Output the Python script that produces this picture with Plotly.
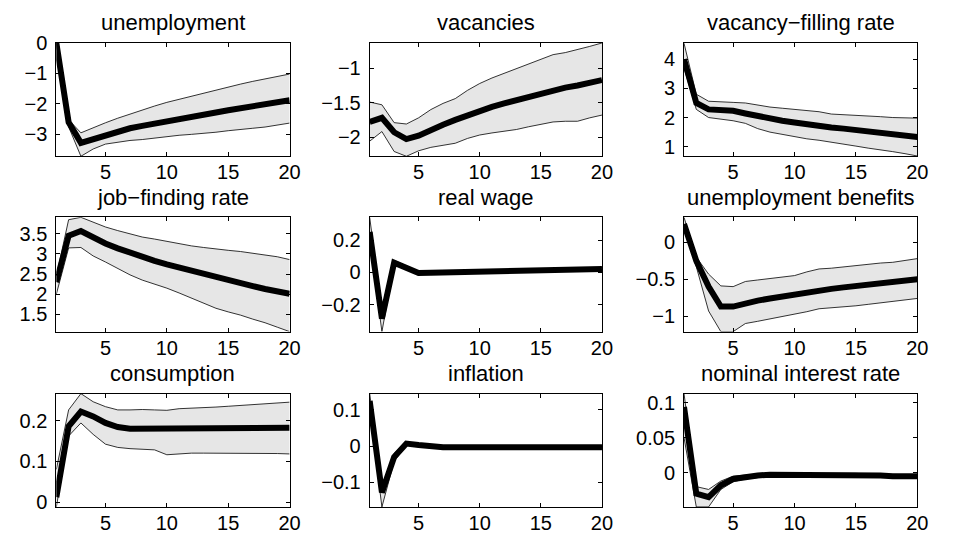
import plotly.graph_objects as go

x = list(range(1, 21))

titles = ["unemployment", "vacancies", "vacancy\u2212filling rate",
          "job\u2212finding rate", "real wage", "unemployment benefits",
          "consumption", "inflation", "nominal interest rate"]

# medians / upper / lower bands
unemp_med = [0, -2.6, -3.28, -3.15, -3.02, -2.9, -2.8, -2.72, -2.64, -2.56, -2.49, -2.42, -2.35, -2.28, -2.21, -2.15, -2.09, -2.03, -1.95, -1.88]
unemp_up = [0, -2.52, -2.95, -2.78, -2.62, -2.47, -2.33, -2.2, -2.07, -1.95, -1.85, -1.74, -1.63, -1.53, -1.43, -1.35, -1.26, -1.18, -1.1, -1.02]
unemp_lo = [0, -2.75, -3.72, -3.48, -3.32, -3.26, -3.2, -3.17, -3.12, -3.07, -3.03, -3.0, -2.97, -2.93, -2.88, -2.83, -2.8, -2.76, -2.7, -2.63]

vac_med = [-1.78, -1.72, -1.93, -2.03, -1.98, -1.89, -1.82, -1.75, -1.68, -1.61, -1.56, -1.51, -1.46, -1.41, -1.37, -1.32, -1.28, -1.25, -1.21, -1.17]
vac_up = [-1.49, -1.53, -1.79, -1.81, -1.72, -1.6, -1.51, -1.44, -1.32, -1.22, -1.14, -1.07, -1.0, -0.93, -0.86, -0.8, -0.77, -0.73, -0.68, -0.63]
vac_lo = [-2.06, -1.92, -2.21, -2.28, -2.2, -2.15, -2.12, -2.09, -2.02, -1.97, -1.94, -1.92, -1.89, -1.85, -1.81, -1.78, -1.77, -1.77, -1.72, -1.68]

vfr_med = [4.0, 2.5, 2.28, 2.27, 2.23, 2.14, 2.04, 1.95, 1.89, 1.83, 1.76, 1.7, 1.66, 1.62, 1.57, 1.52, 1.48, 1.44, 1.38, 1.33]
vfr_up = [4.55, 2.8, 2.56, 2.55, 2.52, 2.5, 2.42, 2.36, 2.32, 2.28, 2.24, 2.2, 2.12, 2.1, 2.09, 2.06, 2.03, 2.0, 1.99, 1.98]
vfr_lo = [3.7, 2.28, 2.0, 1.95, 1.89, 1.8, 1.62, 1.5, 1.42, 1.36, 1.27, 1.22, 1.16, 1.1, 1.02, 0.95, 0.9, 0.83, 0.76, 0.68]

jfr_med = [2.3, 3.45, 3.57, 3.4, 3.26, 3.14, 3.03, 2.93, 2.83, 2.74, 2.66, 2.57, 2.49, 2.42, 2.35, 2.28, 2.2, 2.13, 2.07, 2.01]
jfr_up = [2.45, 3.85, 3.91, 3.79, 3.67, 3.58, 3.5, 3.42, 3.37, 3.31, 3.26, 3.2, 3.16, 3.12, 3.09, 3.06, 3.02, 2.98, 2.93, 2.86]
jfr_lo = [2.0, 3.15, 3.16, 2.95, 2.8, 2.64, 2.48, 2.35, 2.25, 2.15, 2.03, 1.9, 1.78, 1.65, 1.56, 1.48, 1.38, 1.29, 1.18, 1.07]

rw_med = [0.25, -0.285, 0.06, 0.03, -0.003, -0.002, 0.0, 0.002, 0.004, 0.007, 0.009, 0.011, 0.013, 0.015, 0.016, 0.018, 0.02, 0.021, 0.022, 0.022]
rw_up = [0.34, -0.24, 0.075, 0.04, 0.006, 0.006, 0.008, 0.01, 0.012, 0.015, 0.017, 0.019, 0.021, 0.023, 0.024, 0.026, 0.028, 0.029, 0.03, 0.03]
rw_lo = [0.2, -0.365, 0.045, 0.02, -0.012, -0.01, -0.008, -0.006, -0.004, -0.001, 0.001, 0.003, 0.005, 0.007, 0.008, 0.01, 0.012, 0.013, 0.014, 0.014]

ub_med = [0.25, -0.25, -0.6, -0.87, -0.87, -0.82, -0.79, -0.76, -0.73, -0.71, -0.68, -0.65, -0.63, -0.61, -0.59, -0.57, -0.56, -0.54, -0.52, -0.5]
ub_up = [0.34, -0.2, -0.43, -0.59, -0.6, -0.53, -0.51, -0.49, -0.47, -0.45, -0.4, -0.36, -0.35, -0.33, -0.31, -0.3, -0.28, -0.27, -0.24, -0.22]
ub_lo = [0.2, -0.33, -0.93, -1.21, -1.21, -1.1, -1.07, -1.04, -1.01, -0.98, -0.94, -0.9, -0.89, -0.87, -0.86, -0.84, -0.82, -0.8, -0.78, -0.76]

c_med = [0.012, 0.186, 0.222, 0.21, 0.194, 0.184, 0.18, 0.18, 0.18, 0.18, 0.18, 0.18, 0.181, 0.181, 0.181, 0.182, 0.182, 0.182, 0.182, 0.182]
c_up = [0.08, 0.226, 0.266, 0.246, 0.234, 0.226, 0.226, 0.227, 0.226, 0.225, 0.229, 0.23, 0.232, 0.233, 0.235, 0.237, 0.239, 0.241, 0.243, 0.245]
c_lo = [-0.012, 0.162, 0.194, 0.166, 0.142, 0.134, 0.131, 0.13, 0.128, 0.116, 0.118, 0.12, 0.12, 0.12, 0.12, 0.12, 0.12, 0.119, 0.119, 0.118]

inf_med = [0.125, -0.128, -0.03, 0.007, 0.003, -0.002, -0.003, -0.003, -0.003, -0.003, -0.003, -0.003, -0.003, -0.003, -0.003, -0.003, -0.003, -0.003, -0.003, -0.003]
inf_up = [0.145, -0.11, -0.02, 0.012, 0.006, 0.001, -0.001, -0.001, -0.001, -0.001, -0.001, -0.001, -0.001, -0.001, -0.001, -0.001, -0.001, -0.001, -0.001, -0.001]
inf_lo = [0.1, -0.168, -0.042, 0.002, 0.0, -0.004, -0.005, -0.005, -0.005, -0.005, -0.005, -0.005, -0.005, -0.005, -0.005, -0.005, -0.005, -0.005, -0.005, -0.005]

nir_med = [0.094, -0.03, -0.035, -0.018, -0.009, -0.006, -0.004, -0.003, -0.003, -0.002, -0.003, -0.003, -0.003, -0.003, -0.003, -0.004, -0.004, -0.005, -0.005, -0.005]
nir_up = [0.113, -0.02, -0.024, -0.012, -0.005, -0.003, -0.002, -0.001, -0.001, 0.0, -0.001, -0.001, -0.001, -0.001, -0.001, -0.002, -0.002, -0.003, -0.003, -0.003]
nir_lo = [0.05, -0.049, -0.049, -0.024, -0.013, -0.009, -0.007, -0.006, -0.005, -0.004, -0.005, -0.005, -0.005, -0.005, -0.005, -0.006, -0.006, -0.007, -0.007, -0.007]

medians = [unemp_med, vac_med, vfr_med, jfr_med, rw_med, ub_med, c_med, inf_med, nir_med]
uppers = [unemp_up, vac_up, vfr_up, jfr_up, rw_up, ub_up, c_up, inf_up, nir_up]
lowers = [unemp_lo, vac_lo, vfr_lo, jfr_lo, rw_lo, ub_lo, c_lo, inf_lo, nir_lo]

y_ranges = [[-3.72, 0], [-2.28, -0.63], [0.67, 4.56], [1.07, 3.91], [-0.365, 0.34],
            [-1.21, 0.34], [-0.012, 0.266], [-0.168, 0.145], [-0.049, 0.113]]
y_tickvals = [[-3, -2, -1, 0], [-2, -1.5, -1], [1, 2, 3, 4], [1.5, 2, 2.5, 3, 3.5],
              [-0.2, 0, 0.2], [-1, -0.5, 0], [0, 0.1, 0.2], [-0.1, 0, 0.1], [0, 0.05, 0.1]]
y_ticktext = [["\u22123", "\u22122", "\u22121", "0"], ["\u22122", "\u22121.5", "\u22121"],
              ["1", "2", "3", "4"], ["1.5", "2", "2.5", "3", "3.5"],
              ["\u22120.2", "0", "0.2"], ["\u22121", "\u22120.5", "0"], ["0", "0.1", "0.2"],
              ["\u22120.1", "0", "0.1"], ["0", "0.05", "0.1"]]
x_tickvals = [5, 10, 15, 20]
x_ticktext = ["5", "10", "15", "20"]

W, H = 954, 542
col_px = [(57, 293), (374, 609), (692, 928)]
row_px = [(33, 150), (213, 331), (395, 512)]

FONT = "Liberation Sans, Arial, Helvetica, sans-serif"
fig = go.Figure()
annotations = []
layout = {}
for i in range(9):
    r, c = divmod(i, 3)
    n = i + 1
    xa = "x" if n == 1 else f"x{n}"
    ya = "y" if n == 1 else f"y{n}"
    xd = [col_px[c][0] / W, col_px[c][1] / W]
    yd = [1 - row_px[r][1] / H, 1 - row_px[r][0] / H]
    fig.add_trace(go.Scatter(x=x, y=lowers[i], xaxis=xa, yaxis=ya, mode="lines",
                             line=dict(color="black", width=0.8), showlegend=False,
                             hoverinfo="skip"))
    fig.add_trace(go.Scatter(x=x, y=uppers[i], xaxis=xa, yaxis=ya, mode="lines",
                             line=dict(color="black", width=0.8), fill="tonexty",
                             fillcolor="#e6e6e6", showlegend=False, hoverinfo="skip"))
    fig.add_trace(go.Scatter(x=x, y=medians[i], xaxis=xa, yaxis=ya, mode="lines",
                             line=dict(color="black", width=6), showlegend=False))
    axkw = dict(showline=True, linecolor="black", linewidth=1, mirror="allticks",
                ticks="inside", ticklen=4, tickcolor="black", showgrid=False,
                zeroline=False, tickfont=dict(family=FONT, size=20, color="black"))
    layout["xaxis" if n == 1 else f"xaxis{n}"] = dict(
        domain=xd, range=[1, 20], tickvals=x_tickvals, ticktext=x_ticktext,
        anchor=ya, ticklabelstandoff=-2, **axkw)
    layout["yaxis" if n == 1 else f"yaxis{n}"] = dict(
        domain=yd, range=y_ranges[i], tickvals=y_tickvals[i], ticktext=y_ticktext[i],
        anchor=xa, ticklabelstandoff=4, **axkw)
    annotations.append(dict(text=titles[i], xref="paper", yref="paper",
                            x=(xd[0] + xd[1]) / 2, y=yd[1], yanchor="middle",
                            xanchor="center", yshift=20, showarrow=False,
                            font=dict(family=FONT, size=22, color="black")))

fig.update_layout(width=W, height=H, margin=dict(l=0, r=0, t=0, b=0),
                  paper_bgcolor="white", plot_bgcolor="white",
                  annotations=annotations, **layout)
fig.write_html("out.html", config={"displayModeBar": False},
               post_script="document.body.style.margin='0';")
